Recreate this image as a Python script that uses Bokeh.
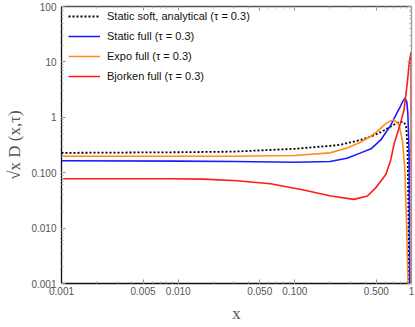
from bokeh.plotting import figure
from bokeh.models import LogAxis, FixedTicker, Legend, LegendItem, LogScale
from bokeh.embed import file_html
from bokeh.resources import INLINE

# ---- data ----
soft_x = [0.001, 0.01, 0.03, 0.1, 0.2, 0.247, 0.367, 0.45, 0.545, 0.664, 0.758, 0.81, 0.864, 0.9, 0.924, 0.94, 0.953]
soft_y = [0.228, 0.234, 0.240, 0.27, 0.305, 0.32, 0.39, 0.45, 0.54, 0.68, 0.80, 0.83, 0.82, 0.68, 0.30, 0.03, 0.0005]

static_x = [0.001, 0.01, 0.03, 0.1, 0.2, 0.28, 0.367, 0.45, 0.545, 0.664, 0.709, 0.758, 0.81, 0.837, 0.881, 0.911, 0.93, 0.953, 0.967]
static_y = [0.164, 0.162, 0.159, 0.154, 0.159, 0.182, 0.228, 0.27, 0.39, 0.72, 0.95, 1.25, 1.63, 1.9, 2.2, 1.9, 1.2, 0.24, 0.0005]

expo_x = [0.001, 0.01, 0.03, 0.1, 0.2, 0.28, 0.367, 0.45, 0.51, 0.582, 0.65, 0.709, 0.783, 0.837, 0.876, 0.906, 0.942]
expo_y = [0.198, 0.198, 0.198, 0.204, 0.228, 0.28, 0.355, 0.46, 0.556, 0.72, 0.85, 0.90, 0.73, 0.37, 0.12, 0.013, 0.0005]

bj_x = [0.001, 0.0086, 0.0165, 0.032, 0.062, 0.119, 0.203, 0.321, 0.419, 0.5, 0.603, 0.664, 0.709, 0.758, 0.81, 0.864, 0.894, 0.924, 0.953, 0.99, 0.9999]
bj_y = [0.0778, 0.0776, 0.0767, 0.0717, 0.0633, 0.0486, 0.038, 0.033, 0.038, 0.055, 0.093, 0.17, 0.33, 0.52, 0.82, 1.4, 2.5, 4.5, 9.0, 15.0, 0.0001]

labels = ["Static soft, analytical (\u03c4 = 0.3)", "Static full (\u03c4 = 0.3)",
          "Expo full (\u03c4 = 0.3)", "Bjorken full (\u03c4 = 0.3)"]

x_ticks = [0.001, 0.005, 0.01, 0.05, 0.1, 0.5, 1.0]
x_tick_labels = ["0.001", "0.005", "0.010", "0.050", "0.100", "0.500", "1"]
y_ticks = [0.001, 0.01, 0.1, 1.0, 10.0, 100.0]
y_tick_labels = ["0.001", "0.010", "0.100", "1", "10", "100"]

x_minor = [m * d for d in (0.001, 0.01, 0.1) for m in range(1, 10)] + [1.0]
y_minor = [m * d for d in (0.001, 0.01, 0.1, 1, 10) for m in range(1, 10)] + [100.0]

TICK_COLOR = "#555555"
LABEL_FONT = "Liberation Sans"

W, H = 414, 325
BL, BR, BT, BB = 61, 3, 6, 41

p = figure(width=W, height=H, x_axis_type=None, y_axis_type=None,
           x_range=(0.001, 1), y_range=(0.001, 100),
           output_backend="svg", toolbar_location=None,
           min_border_left=BL, min_border_right=BR, min_border_top=BT, min_border_bottom=BB)
p.x_scale = LogScale()
p.y_scale = LogScale()
p.xgrid.visible = False
p.ygrid.visible = False
p.outline_line_color = "#888888"
p.outline_line_width = 1
p.background_fill_color = "white"
p.border_fill_color = "white"


def make_axis(ticks, minor, tick_labels, show_labels, line_color):
    ax = LogAxis(ticker=FixedTicker(ticks=ticks, minor_ticks=minor))
    if show_labels:
        ax.major_label_overrides = {t: l for t, l in zip(ticks, tick_labels)}
    else:
        ax.major_label_overrides = {t: "" for t in ticks}
    ax.major_tick_in = 4
    ax.major_tick_out = 0
    ax.minor_tick_in = 2
    ax.minor_tick_out = 0
    ax.major_tick_line_color = "#888888"
    ax.minor_tick_line_color = "#aaaaaa"
    ax.axis_line_color = line_color
    ax.axis_line_width = 1.3
    ax.major_label_text_color = TICK_COLOR
    ax.major_label_text_font = LABEL_FONT
    ax.major_label_text_font_size = "10px"
    ax.major_label_standoff = 3 if show_labels else 0
    return ax


xb = make_axis(x_ticks, x_minor, x_tick_labels, True, "#111111")
xb.axis_label = "x"
xb.axis_label_text_font = "Liberation Serif"
xb.axis_label_text_font_style = "normal"
xb.axis_label_text_font_size = "17px"
xb.axis_label_text_color = TICK_COLOR
xb.axis_label_standoff = 6
p.add_layout(xb, "below")

yl = make_axis(y_ticks, y_minor, y_tick_labels, True, "#111111")
yl.major_label_standoff = 5
yl.axis_label = "\u221ax D (x,\u03c4)"
yl.axis_label_text_font = "Liberation Serif"
yl.axis_label_text_font_style = "normal"
yl.axis_label_text_font_size = "17px"
yl.axis_label_text_color = TICK_COLOR
yl.axis_label_standoff = 4
p.add_layout(yl, "left")

xt = make_axis(x_ticks, x_minor, x_tick_labels, False, "#555555")
p.add_layout(xt, "above")
yr = make_axis(y_ticks, y_minor, y_tick_labels, False, "#999999")
p.add_layout(yr, "right")

r1 = p.line(soft_x, soft_y, line_color="black", line_width=1.8, line_dash="2 2")
r2 = p.line(static_x, static_y, line_color="#1a1aff", line_width=1.6)
r3 = p.line(expo_x, expo_y, line_color="#ff8c1a", line_width=1.6)
r4 = p.line(bj_x, bj_y, line_color="#ff1a1a", line_width=1.6)

frame_h = H - BT - BB
legend = Legend(items=[LegendItem(label=l, renderers=[r]) for l, r in zip(labels, [r1, r2, r3, r4])],
                location=(7, frame_h - 1 - 80))
legend.border_line_color = None
legend.background_fill_alpha = 0
legend.label_text_font = LABEL_FONT
legend.label_text_font_size = "11px"
legend.label_text_color = "#111111"
legend.glyph_width = 32
legend.glyph_height = 20
legend.label_height = 20
legend.spacing = 0
legend.label_standoff = 7
legend.padding = 0
legend.margin = 0
p.add_layout(legend)

open("out.html", "w").write(file_html(p, INLINE))
